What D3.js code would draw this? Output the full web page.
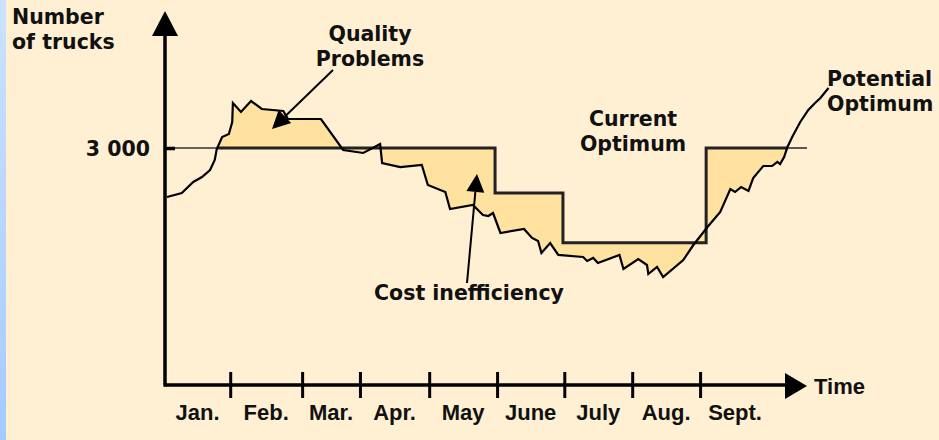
<!DOCTYPE html>
<html>
<head>
<meta charset="utf-8">
<script src="https://cdn.jsdelivr.net/npm/d3@7"></script>
<style>
  html, body { margin: 0; padding: 0; background: #fff0d4; }
  svg { display: block; }
  .lbl { font-family: "DejaVu Sans", Verdana, sans-serif; font-weight: bold; font-size: 20.5px; fill: #111; }
  .mon { font-family: "Liberation Sans Narrow", "Arial Narrow", "Liberation Sans", sans-serif; font-weight: bold; font-size: 22px; fill: #111; }
</style>
</head>
<body>
<div id="chart"></div>
<script>
var W = 939, H = 440

// month boundaries (in months since start of Jan.) and labels
var months = ["Jan.", "Feb.", "Mar.", "Apr.", "May", "June", "July", "Aug.", "Sept."]
var monthTicks = [0.97, 2.04, 2.90, 3.93, 4.94, 5.94, 6.95, 7.96]
var monthBounds = [0].concat(monthTicks, [9.0])

// actual number of trucks (potential optimum curve)
var actualX = [0.03, 0.25, 0.42, 0.55, 0.67, 0.74, 0.77, 0.85, 0.95, 1.00, 1.01, 1.13, 1.28, 1.44, 1.76, 1.83,
  2.32, 2.65, 2.95, 3.20, 3.23, 3.50, 3.82, 3.91, 4.17, 4.24, 4.58, 4.73, 4.81, 4.88, 4.99, 5.34, 5.46, 5.55,
  5.60, 5.73, 5.85, 6.22, 6.28, 6.37, 6.44, 6.76, 6.82, 7.04, 7.17, 7.19, 7.32, 7.41, 7.71, 7.86, 8.07, 8.26,
  8.41, 8.48, 8.57, 8.68, 8.75, 8.90, 9.03, 9.11, 9.15, 9.21, 9.26, 9.33, 9.45, 9.57, 9.67, 9.75, 9.87]
var actualTrucks = [2380, 2430, 2570, 2633, 2721, 2848, 2987, 3139, 3177, 3329, 3570, 3456, 3595, 3494, 3468, 3367,
  3367, 2975, 2937, 3051, 2810, 2759, 2785, 2532, 2443, 2228, 2278, 2152, 2139, 2177, 1924, 1975, 1861, 1823,
  1671, 1797, 1646, 1620, 1570, 1608, 1544, 1646, 1468, 1595, 1519, 1405, 1494, 1367, 1582, 1772, 2000, 2190,
  2481, 2443, 2506, 2456, 2620, 2772, 2772, 2823, 2797, 2886, 3013, 3139, 3329, 3481, 3570, 3633, 3759]

// current optimum (step levels between breakpoints)
var optimumX = [0.79, 4.91, 5.92, 8.05, 9.27]
var optimumLevel = [3000, 2430, 1800, 3000]

var yTicks = [3000]

var svg = d3.select("#chart").append("svg").attr("width", W).attr("height", H)

// light blue strip on the left
var defs = svg.append("defs")
var grad = defs.append("linearGradient").attr("id", "strip")
  .attr("x1", 0).attr("y1", 0).attr("x2", 0).attr("y2", 1)
grad.append("stop").attr("offset", "0%").attr("stop-color", "#cce2ff")
grad.append("stop").attr("offset", "100%").attr("stop-color", "#a6caff")
svg.append("rect").attr("width", W).attr("height", H).attr("fill", "#fff0d4")
svg.append("rect").attr("width", 6).attr("height", H).attr("fill", "url(#strip)")

var x = d3.scaleLinear().domain([0, 9]).range([165, 770])
var y = d3.scaleLinear().domain([0, 3000]).range([385, 148])

var pts = actualX.map(function(d, i) { return [d, actualTrucks[i]] })

function curveAt(xv) {
  for (var i = 1; i < pts.length; i++) {
    if (pts[i][0] >= xv) {
      var t = (xv - pts[i - 1][0]) / (pts[i][0] - pts[i - 1][0])
      return pts[i - 1][1] + t * (pts[i][1] - pts[i - 1][1])
    }
  }
  return pts[pts.length - 1][1]
}

var x0 = optimumX[0], x1 = optimumX[optimumX.length - 1]
var poly = [[x0, curveAt(x0)]]
pts.forEach(function(p) { if (p[0] > x0 && p[0] < x1) poly.push(p) })
poly.push([x1, curveAt(x1)])
for (var i = optimumLevel.length - 1; i >= 0; i--) {
  poly.push([optimumX[i + 1], optimumLevel[i]])
  poly.push([optimumX[i], optimumLevel[i]])
}

var line = d3.line()
  .x(function(d) { return x(d[0]) })
  .y(function(d) { return y(d[1]) })

// shaded gap between actual and current optimum
svg.append("path")
  .attr("d", line(poly) + "Z")
  .attr("fill", "#ffe1a0")
  .attr("fill-rule", "evenodd")

// thin 3 000 guide, only outside the step line
svg.append("line")
  .attr("x1", 170).attr("x2", x(x0))
  .attr("y1", y(3000)).attr("y2", y(3000))
  .attr("stroke", "#333").attr("stroke-width", 1.6)
svg.append("line")
  .attr("x1", x(x1)).attr("x2", 807)
  .attr("y1", y(3000)).attr("y2", y(3000))
  .attr("stroke", "#333").attr("stroke-width", 1.6)

// current optimum step line
var stepPts = optimumX.map(function(d, i) {
  return [d, optimumLevel[Math.min(i, optimumLevel.length - 1)]]
})
svg.append("path")
  .datum(stepPts)
  .attr("d", line.curve(d3.curveStepAfter))
  .attr("fill", "none")
  .attr("stroke", "#222")
  .attr("stroke-width", 3)
line.curve(d3.curveLinear)

// actual curve
svg.append("path")
  .datum(pts)
  .attr("d", line)
  .attr("fill", "none")
  .attr("stroke", "#000")
  .attr("stroke-width", 2.2)
  .attr("stroke-linejoin", "miter")

// axes
var xAxis = svg.append("g")
  .attr("transform", "translate(0," + y(0) + ")")
  .call(d3.axisBottom(x).tickValues(monthTicks).tickSize(13).tickFormat(""))
xAxis.select(".domain").remove()
xAxis.selectAll(".tick line").attr("y1", -13).attr("stroke", "#000").attr("stroke-width", 3)
svg.append("line").attr("x1", x(0) - 1).attr("x2", 790).attr("y1", y(0)).attr("y2", y(0))
  .attr("stroke", "#000").attr("stroke-width", 3.5)
svg.append("path").attr("d", "M785,373L807,386L785,399Z").attr("fill", "#000")

var yAxis = svg.append("g")
  .attr("transform", "translate(" + x(0) + ",0)")
  .call(d3.axisLeft(y).tickValues(yTicks).tickSize(8).tickPadding(7)
    .tickFormat(function(d) { return d3.format(",")(d).replace(",", " ") }))
yAxis.select(".domain").remove()
yAxis.selectAll(".tick line").attr("x2", 10).attr("stroke", "#000").attr("stroke-width", 3.5)
yAxis.selectAll(".tick text").attr("class", "lbl").attr("dy", "0.36em")
svg.append("line").attr("x1", x(0)).attr("x2", x(0)).attr("y1", 30).attr("y2", y(0) + 1.5)
  .attr("stroke", "#000").attr("stroke-width", 3.5)
svg.append("path").attr("d", "M165,11L178,36L152,36Z").attr("fill", "#000")

// month labels, centred in each month
svg.selectAll(".mon").data(months).enter().append("text")
  .attr("class", "mon")
  .attr("text-anchor", "middle")
  .attr("x", function(d, i) { return x((monthBounds[i] + monthBounds[i + 1]) / 2) })
  .attr("y", 420)
  .text(function(d) { return d })

svg.append("text").attr("class", "mon").attr("x", 814).attr("y", 394).text("Time")

// titles and annotations
function multi(lines, xp, yp, anchor) {
  var t = svg.append("text").attr("class", "lbl").attr("text-anchor", anchor)
  lines.forEach(function(s, i) {
    t.append("tspan").attr("x", xp).attr("y", yp + i * 25).text(s)
  })
}
multi(["Number", "of trucks"], 12, 24, "start")
multi(["Quality", "Problems"], 370, 41, "middle")
multi(["Current", "Optimum"], 633, 126, "middle")
multi(["Potential", "Optimum"], 827, 86, "start")
multi(["Cost inefficiency"], 469, 300, "middle")

// pointer arrows
function arrow(xa, ya, xb, yb) {
  var a = Math.atan2(yb - ya, xb - xa), L = 18, w = 9
  var bx = xb - L * Math.cos(a), by = yb - L * Math.sin(a)
  svg.append("line").attr("x1", xa).attr("y1", ya).attr("x2", bx).attr("y2", by)
    .attr("stroke", "#000").attr("stroke-width", 2)
  svg.append("path").attr("d", "M" + xb + "," + yb +
    "L" + (bx + w * Math.sin(a)) + "," + (by - w * Math.cos(a)) +
    "L" + (bx - w * Math.sin(a)) + "," + (by + w * Math.cos(a)) + "Z").attr("fill", "#000")
}
arrow(333, 70, 272, 129)
arrow(467, 283, 477, 174)
</script>
</body>
</html>
